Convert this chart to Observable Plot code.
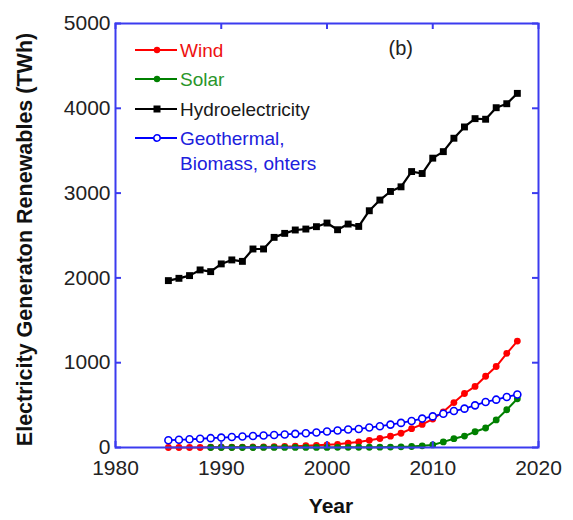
<!DOCTYPE html>
<html>
<head>
<meta charset="utf-8">
<script src="https://cdn.jsdelivr.net/npm/d3@7"></script>
<script src="https://cdn.jsdelivr.net/npm/@observablehq/plot@0.6"></script>
<style>
  html, body { margin: 0; padding: 0; background: white; }
  #chart { position: relative; width: 573px; height: 520px; }
  #legend { position: absolute; left: 0; top: 0; pointer-events: none; }
</style>
</head>
<body>
<div id="chart"></div>
<script>
// ---- data ----
const years = [1985,1986,1987,1988,1989,1990,1991,1992,1993,1994,1995,1996,1997,1998,1999,2000,2001,2002,2003,2004,2005,2006,2007,2008,2009,2010,2011,2012,2013,2014,2015,2016,2017,2018];
const wind = [0,0,0,0,3,4,4,5,6,7,9,12,15,21,26,31,38,52,65,85,106,134,168,222,272,335,421,530,637,720,840,955,1110,1255];
const solarYears = [1989,1990,1991,1992,1993,1994,1995,1996,1997,1998,1999,2000,2001,2002,2003,2004,2005,2006,2007,2008,2009,2010,2011,2012,2013,2014,2015,2016,2017,2018];
const solar = [0,0,0,0,0,1,1,1,1,1,1,1,2,2,3,3,4,5,8,12,20,30,66,104,135,186,230,325,445,575];
const hydro = [1968,1995,2027,2094,2074,2165,2212,2195,2341,2341,2478,2525,2565,2576,2604,2647,2568,2635,2607,2792,2918,3019,3074,3254,3231,3412,3489,3647,3780,3878,3871,4007,4054,4176];
const others = [86,91,97,103,110,117,123,129,135,141,147,154,161,168,177,188,200,212,219,235,251,270,290,313,341,367,398,430,458,497,537,564,596,625];
const xTicks = [1980,1990,2000,2010,2020];
const yTicks = [0,1000,2000,3000,4000,5000];
const seriesNames = ["Wind","Solar","Hydroelectricity","Geothermal,\nBiomass, ohters"];
const seriesColors = ["#ff0000","#008000","#000000","#0000ff"];
const textColors = ["#ee1111","#2a962a","#1a1a1a","#2020dd"];

// ---- build tables ----
const windData = years.map((y,i)=>({year:y, v:wind[i]}));
const solarData = solarYears.map((y,i)=>({year:y, v:solar[i]}));
const hydroData = years.map((y,i)=>({year:y, v:hydro[i]}));
const otherData = years.map((y,i)=>({year:y, v:others[i]}));

const W = 573, H = 520;
const mL = 115, mR = 35, mT = 23, mB = 73;
const innerW = W - mL - mR, innerH = H - mT - mB;
const frameBlue = "#3b3bef";
const tickLen = 6;

const chart = Plot.plot({
  width: W, height: H,
  marginLeft: mL, marginRight: mR, marginTop: mT, marginBottom: mB,
  x: {domain: [1980, 2020]},
  y: {domain: [0, 5000]},
  style: {fontFamily: "'Liberation Sans', Arial, sans-serif", fontSize: "21px", color: "#222", background: "white"},
  marks: [
    Plot.axisX({ticks: xTicks, tickSize: 0, tickPadding: 13, tickFormat: d => String(d), label: null, fontSize: 21}),
    Plot.axisY({ticks: yTicks, tickSize: 0, tickPadding: 5, tickFormat: d => String(d), label: null, fontSize: 21}),
    // wind
    Plot.line(windData, {x: "year", y: "v", stroke: seriesColors[0], strokeWidth: 2}),
    Plot.dot(windData, {x: "year", y: "v", fill: seriesColors[0], r: 3.4}),
    // solar
    Plot.line(solarData, {x: "year", y: "v", stroke: seriesColors[1], strokeWidth: 2}),
    Plot.dot(solarData, {x: "year", y: "v", fill: seriesColors[1], r: 3.4}),
    // hydro
    Plot.line(hydroData, {x: "year", y: "v", stroke: seriesColors[2], strokeWidth: 2.2}),
    Plot.dot(hydroData, {x: "year", y: "v", fill: seriesColors[2], symbol: "square", r: 3.9}),
    // others
    Plot.line(otherData, {x: "year", y: "v", stroke: seriesColors[3], strokeWidth: 1.8}),
    Plot.dot(otherData, {x: "year", y: "v", fill: "white", stroke: seriesColors[3], strokeWidth: 1.6, r: 3.5}),
    // inward ticks
    Plot.tickY(yTicks, {y: d => d, stroke: frameBlue, strokeWidth: 2, insetRight: innerW - tickLen}),
    Plot.tickY(yTicks, {y: d => d, stroke: frameBlue, strokeWidth: 2, insetLeft: innerW - tickLen}),
    Plot.tickX(xTicks, {x: d => d, stroke: frameBlue, strokeWidth: 2, insetTop: innerH - tickLen}),
    Plot.tickX(xTicks, {x: d => d, stroke: frameBlue, strokeWidth: 2, insetBottom: innerH - tickLen}),
    Plot.frame({stroke: frameBlue, strokeWidth: 2}),
    // axis titles
    Plot.text(["Electricity Generaton Renewables (TWh)"], {frameAnchor: "left", dx: -90, dy: 4, rotate: -90, textAnchor: "middle", lineAnchor: "middle", fontSize: 21.5, fontWeight: "bold", fill: "#111"}),
    Plot.text(["Year"], {frameAnchor: "bottom", dx: 4, dy: 59, lineAnchor: "middle", textAnchor: "middle", fontSize: 21, fontWeight: "bold", fill: "#111"}),
    Plot.text(["(b)"], {frameAnchor: "top-left", dx: 273, dy: 25, lineAnchor: "middle", fontSize: 20, fill: "#222", textAnchor: "start"})
  ]
});
document.getElementById("chart").appendChild(chart);

// ---- legend overlay ----
const leg = d3.select("#chart").append("svg")
  .attr("id", "legend").attr("width", W).attr("height", H)
  .style("font-family", "'Liberation Sans', Arial, sans-serif");
const rowY = [50, 79, 109, 138];
seriesNames.forEach((name, i) => {
  const g = leg.append("g").attr("transform", `translate(0,${rowY[i]})`);
  g.append("line").attr("x1", 135).attr("x2", 177).attr("y1", 0).attr("y2", 0)
    .attr("stroke", seriesColors[i]).attr("stroke-width", i === 2 ? 2.2 : 2);
  if (i === 2) {
    g.append("rect").attr("x", 157 - 3.5).attr("y", -3.5).attr("width", 7).attr("height", 7).attr("fill", seriesColors[i]);
  } else if (i === 3) {
    g.append("circle").attr("cx", 157).attr("cy", 0).attr("r", 3.2).attr("fill", "white").attr("stroke", seriesColors[i]).attr("stroke-width", 1.5);
  } else {
    g.append("circle").attr("cx", 157).attr("cy", 0).attr("r", 3.2).attr("fill", seriesColors[i]);
  }
  const lines = name.split("\n");
  lines.forEach((t, j) => {
    g.append("text").attr("x", 180).attr("y", j * 25).attr("dy", "0.35em")
      .attr("font-size", 19).attr("fill", textColors[i]).text(t);
  });
});
</script>
</body>
</html>
